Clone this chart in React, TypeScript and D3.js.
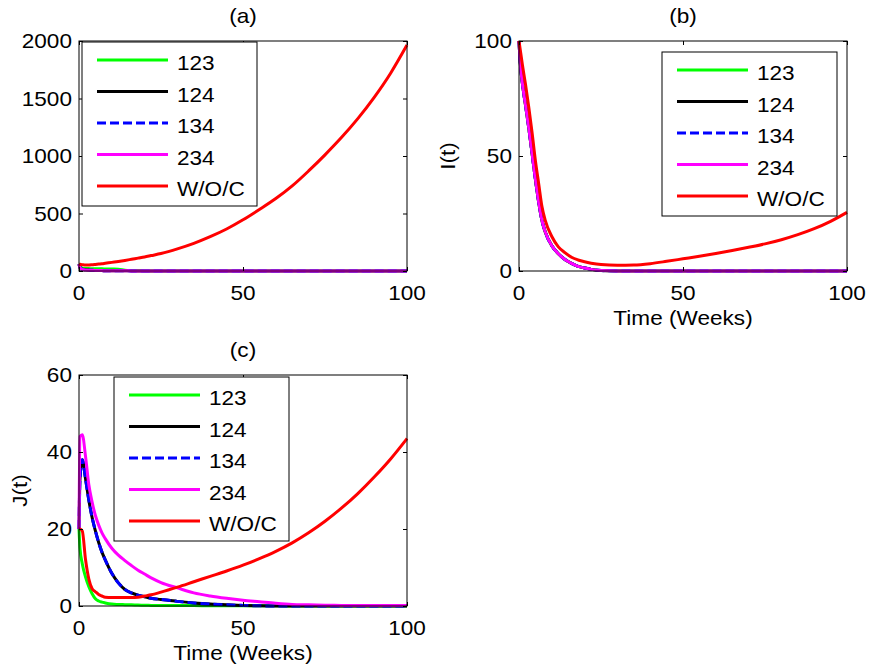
import React, { useEffect, useRef } from 'react';
import * as d3 from 'd3';

// time grid (weeks) shared by every curve
const weeks = [0, 0.3, 1, 2, 3, 4, 5, 6, 7, 8, 10, 12, 14, 16, 18, 20, 22, 25, 30, 35, 40, 45, 50, 55, 60, 65, 70, 75, 80, 85, 90, 95, 100];

const seriesNames = ['123', '124', '134', '234', 'W/O/C'];
const seriesColors = ['#00ff00', '#000000', '#0000ff', '#ff00ff', '#ff0000'];
const seriesDash = [null, null, '9,4', null, null];

// panel (a)
const a123 = [60, 40, 25, 22, 21, 20, 20, 19, 19, 18, 17, 16, 6, 3, 2, 1, 1, 0.8, 0.5, 0.4, 0.3, 0.2, 0.2, 0.1, 0.1, 0.1, 0.1, 0.1, 0.1, 0.1, 0.1, 0.1, 0.1];
const a124 = [60, 30, 15, 10, 8, 6, 5, 4, 3.5, 3, 2.5, 2, 1.5, 1, 1, 1, 0.8, 0.6, 0.5, 0.4, 0.3, 0.2, 0.2, 0.1, 0.1, 0.1, 0.1, 0.1, 0.1, 0.1, 0.1, 0.1, 0.1];
const a134 = [60, 30, 15, 10, 8, 6, 5, 4, 3.5, 3, 2.5, 2, 1.5, 1, 1, 1, 0.8, 0.6, 0.5, 0.4, 0.3, 0.2, 0.2, 0.1, 0.1, 0.1, 0.1, 0.1, 0.1, 0.1, 0.1, 0.1, 0.1];
const a234 = [60, 28, 14, 9, 7, 6, 5, 4, 3.5, 3, 2.5, 2, 1.5, 1, 1, 1, 0.8, 0.6, 0.5, 0.4, 0.3, 0.2, 0.2, 0.1, 0.1, 0.1, 0.1, 0.1, 0.1, 0.1, 0.1, 0.1, 0.1];
const aWOC = [60, 58, 55, 52, 52, 54, 57, 60, 63, 67, 75, 83, 92, 102, 112, 122, 134, 152, 192, 240, 298, 365, 445, 535, 630, 740, 870, 1010, 1160, 1325, 1510, 1720, 1965];

// panel (b)
const b123 = [100, 92, 82, 72, 62, 51, 40, 30, 22, 17, 11, 7.5, 5, 3.3, 2, 1.3, 0.7, 0.2, 0, 0, 0, 0, 0, 0, 0, 0, 0, 0, 0, 0, 0, 0, 0];
const b124 = [100, 92, 82, 72, 62, 51, 40, 30, 22, 17, 11, 7.5, 5, 3.3, 2, 1.3, 0.7, 0.2, 0, 0, 0, 0, 0, 0, 0, 0, 0, 0, 0, 0, 0, 0, 0];
const b134 = [100, 92, 82, 72, 62, 51, 40, 30, 22, 17, 11, 7.5, 5, 3.3, 2, 1.3, 0.7, 0.2, 0, 0, 0, 0, 0, 0, 0, 0, 0, 0, 0, 0, 0, 0, 0];
const b234 = [100, 92, 82, 72, 62, 51, 40, 30, 22, 17, 11, 7.5, 5, 3.3, 2, 1.3, 0.7, 0.2, 0, 0, 0, 0, 0, 0, 0, 0, 0, 0, 0, 0, 0, 0, 0];
const bWOC = [100, 97, 90, 81, 71, 60, 48, 38, 28, 22, 15, 10.5, 8, 6, 4.8, 4, 3.4, 2.8, 2.5, 2.6, 3.2, 4.2, 5.3, 6.4, 7.6, 8.9, 10.3, 11.8, 13.6, 15.8, 18.4, 21.6, 25.5];

// panel (c)
const c123 = [20, 15, 11, 7.5, 5, 3.2, 1.9, 1.3, 1.0, 0.8, 0.5, 0.4, 0.35, 0.3, 0.25, 0.2, 0.15, 0.1, 0.1, 0.1, 0.05, 0.05, 0.05, 0.05, 0.05, 0, 0, 0, 0, 0, 0, 0, 0];
const c124 = [20, 33, 38, 33, 27.5, 23, 19.5, 16.5, 14, 12, 8.5, 6, 4.3, 3.4, 2.8, 2.4, 2.0, 1.7, 1.2, 0.8, 0.5, 0.3, 0.15, 0.05, 0, 0, 0, 0, 0, 0, 0, 0, 0];
const c134 = [20, 33, 38, 33, 27.5, 23, 19.5, 16.5, 14, 12, 8.5, 6, 4.3, 3.4, 2.8, 2.4, 2.0, 1.7, 1.2, 0.8, 0.5, 0.3, 0.15, 0.05, 0, 0, 0, 0, 0, 0, 0, 0, 0];
const c234 = [20, 44, 44.5, 38.8, 31.5, 27, 23.5, 21, 19, 17.5, 15, 13.2, 11.8, 10.5, 9.3, 8.3, 7.3, 6.1, 4.7, 3.4, 2.6, 2.0, 1.5, 1.1, 0.7, 0.4, 0.3, 0.2, 0.15, 0.1, 0.1, 0.1, 0.1];
const cWOC = [20, 20, 19.5, 12, 7, 4.5, 3.7, 3.0, 2.6, 2.3, 2.2, 2.2, 2.2, 2.2, 2.3, 2.6, 2.9, 3.6, 4.9, 6.3, 7.7, 9.1, 10.6, 12.3, 14.2, 16.4, 19.0, 22.0, 25.4, 29.2, 33.5, 38.2, 43.5];

const xTicks = [0, 50, 100];

const panels = [
  { title: '(a)', yMax: 2000, yTicks: [0, 500, 1000, 1500, 2000], ylabel: '', xlabel: '',
    data: [a123, a124, a134, a234, aWOC],
    left: 79, top: 41, right: 407, bottom: 271, legendX: 82, legendY: 42, ylabelX: 0 },
  { title: '(b)', yMax: 100, yTicks: [0, 50, 100], ylabel: 'I(t)', xlabel: 'Time (Weeks)',
    data: [b123, b124, b134, b234, bWOC],
    left: 519, top: 41, right: 847, bottom: 271, legendX: 662, legendY: 52, ylabelX: 448 },
  { title: '(c)', yMax: 60, yTicks: [0, 20, 40, 60], ylabel: 'J(t)', xlabel: 'Time (Weeks)',
    data: [c123, c124, c134, c234, cWOC],
    left: 79, top: 375, right: 407, bottom: 606, legendX: 114, legendY: 377, ylabelX: 20 },
];

const FONT = '"Liberation Sans", Arial, sans-serif';
const STRETCH = 1.13;

const App = () => {
  const ref = useRef<SVGSVGElement>(null);

  useEffect(() => {
    if (!ref.current) return;
    const svg = d3.select(ref.current);
    svg.selectAll('*').remove();

    const label = (g: any, txt: string, x: number, y: number, anchor: string, rot = 0) =>
      g.append('text')
        .attr('transform', `translate(${x},${y}) rotate(${rot}) scale(${STRETCH},1)`)
        .attr('text-anchor', anchor)
        .attr('font-family', FONT)
        .attr('font-size', 20)
        .attr('fill', '#000')
        .text(txt);

    panels.forEach(p => {
      const x = d3.scaleLinear().domain([0, 100]).range([p.left, p.right]);
      const y = d3.scaleLinear().domain([0, p.yMax]).range([p.bottom, p.top]);
      const g = svg.append('g');

      // lines
      const line = d3.line<number>()
        .x((_, i) => x(weeks[i]))
        .y(d => y(d))
        .curve(d3.curveMonotoneX);
      p.data.forEach((vals, k) => {
        g.append('path')
          .attr('d', line(vals))
          .attr('fill', 'none')
          .attr('stroke', seriesColors[k])
          .attr('stroke-width', 3)
          .attr('stroke-dasharray', seriesDash[k])
          .attr('stroke-linejoin', 'round');
      });

      // axis box + inward ticks on all sides
      g.append('rect')
        .attr('x', p.left).attr('y', p.top)
        .attr('width', p.right - p.left).attr('height', p.bottom - p.top)
        .attr('fill', 'none').attr('stroke', '#000').attr('stroke-width', 1);
      const tickAxes = [
        [d3.axisBottom(x).tickValues(xTicks), `translate(0,${p.bottom})`],
        [d3.axisTop(x).tickValues(xTicks), `translate(0,${p.top})`],
        [d3.axisLeft(y).tickValues(p.yTicks), `translate(${p.left},0)`],
        [d3.axisRight(y).tickValues(p.yTicks), `translate(${p.right},0)`],
      ] as any[];
      tickAxes.forEach(([ax, tr]) => {
        const ag = g.append('g')
          .attr('transform', tr)
          .call(ax.tickSize(-4).tickFormat(() => ''));
        ag.select('.domain').remove();
        ag.selectAll('line').attr('stroke', '#000');
      });

      // tick labels
      xTicks.forEach(t => label(g, String(t), x(t), p.bottom + 29, 'middle'));
      p.yTicks.forEach(t => label(g, String(t), p.left - 7, y(t) + 7, 'end'));

      // titles and axis labels
      label(g, p.title, (p.left + p.right) / 2, p.top - 18, 'middle');
      if (p.xlabel) label(g, p.xlabel, (p.left + p.right) / 2, p.bottom + 54, 'middle');
      if (p.ylabel) label(g, p.ylabel, p.ylabelX + 7, (p.top + p.bottom) / 2, 'middle', -90);

      // legend
      const lg = g.append('g').attr('transform', `translate(${p.legendX},${p.legendY})`);
      lg.append('rect')
        .attr('width', 175).attr('height', 164)
        .attr('fill', '#fff').attr('stroke', '#000').attr('stroke-width', 1);
      const rowY = d3.scaleLinear().domain([0, 4]).range([18, 144]);
      seriesNames.forEach((name, k) => {
        lg.append('line')
          .attr('x1', 15).attr('x2', 86)
          .attr('y1', rowY(k)).attr('y2', rowY(k))
          .attr('stroke', seriesColors[k])
          .attr('stroke-width', 3)
          .attr('stroke-dasharray', seriesDash[k]);
        label(lg, name, 95, rowY(k) + 10, 'start');
      });
    });
  }, []);

  return (
    <svg ref={ref} width={871} height={671}
      style={{ position: 'absolute', left: 0, top: 0, background: '#fff' }} />
  );
};

export default App;
